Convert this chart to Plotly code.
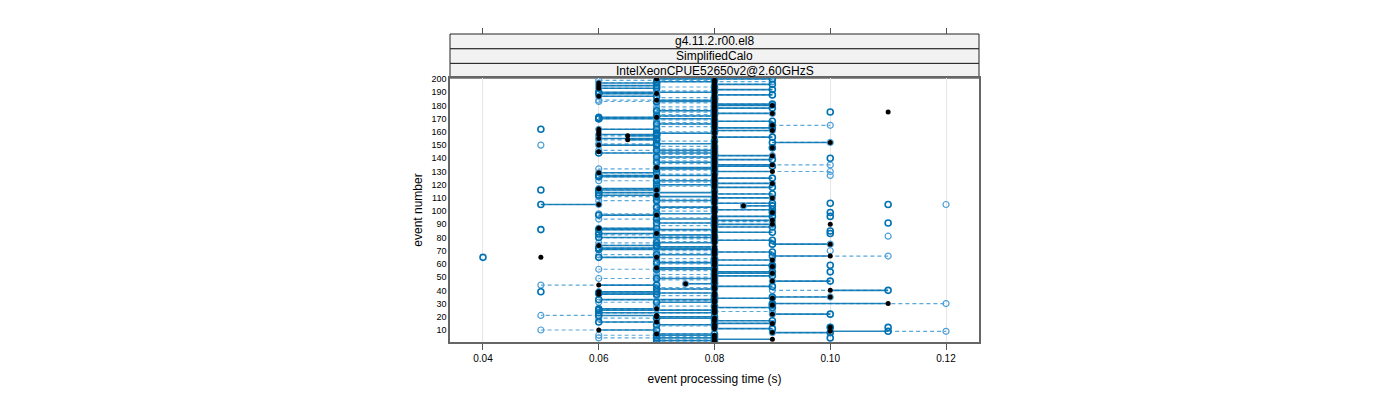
import plotly.graph_objects as go

# ---- data (times in ms) ----
events = list(range(1, 201))
black_ms = [80,80,90,80,80,80,70,90,100,60, 80,100,80,80,90,70,80,80,80,70,
            70,90,80,80,80,70,80,80,90,110, 80,80,80,90,100,80,60,80,60,100,
            80,80,80,60,75,80,90,80,80,80, 80,80,90,80,80,80,70,90,80,80,
            80,80,90,80,70,100,80,80,80,80, 80,80,80,60,100,80,80,80,80,80,
            80,80,70,80,80,80,60,80,80,90, 80,80,90,80,80,80,70,80,90,80,
            80,80,80,85,60,80,80,80,80,90, 80,70,80,80,80,70,60,80,80,80,
            90,80,80,80,80,70,80,80,60,90, 80,80,70,80,90,80,80,80,80,80,
            80,90,80,80,80,80,80,90,80,60, 80,100,80,65,60,80,65,60,80,80,
            90,60,80,80,90,80,80,80,80,80, 70,80,80,90,80,80,80,80,80,90,
            80,80,80,70,80,80,60,80,70,80, 80,80,60,80,60,80,60,80,80,70]
blue_ms = [80,70,80,70,80,70,80,100,110,70, 90,100,80,70,80,60,90,80,70,80,
           60,100,60,80,60,60,90,80,90,90, 70,80,60,80,90,80,70,60,70,110,
           70,80,90,70,80,80,100,80,70,80, 90,80,80,90,80,70,80,90,90,80,
           70,80,80,80,60,90,70,80,90,80, 60,60,70,70,90,70,80,90,80,60,
           80,70,60,90,80,60,70,90,80,80, 70,80,80,70,80,90,60,70,90,80,
           90,80,70,90,50,90,80,70,80,80, 70,60,90,60,80,60,70,90,80,70,
           80,80,70,80,90,60,60,80,70,80, 80,70,80,90,80,80,70,80,90,80,
           70,80,80,60,80,70,80,90,80,70, 70,90,80,70,70,90,70,70,70,80,
           80,70,90,80,90,70,80,90,80,60, 60,70,80,80,80,70,80,90,80,80,
           90,80,70,80,80,80,70,90,60,60, 80,90,70,80,70,90,70,70,80,90]
light_ms = [70,80,70,60,70,60,70,90,120,50, 80,100,70,80,90,70,80,80,60,70,
            50,90,80,90,80,70,80,70,90,120, 60,70,80,90,100,70,60,80,60,90,
            80,70,80,50,75,80,90,70,60,70, 80,70,90,80,70,60,70,90,80,70,
            80,70,90,70,70,110,60,70,80,70, 80,70,80,60,100,60,70,80,70,80,
            70,60,70,80,70,80,60,80,70,90, 80,90,90,60,70,80,70,60,90,70,
            80,70,80,85,60,80,70,60,70,90, 60,70,80,70,80,70,60,80,70,80,
            90,70,60,70,80,70,80,70,60,100, 70,60,70,80,100,70,80,70,80,70,
            80,90,70,80,70,60,70,90,70,60, 60,100,70,60,60,80,60,60,80,70,
            90,60,80,70,100,80,70,80,70,80, 70,80,70,90,70,80,70,80,70,90,
            80,70,60,60,80,70,60,80,70,80, 70,80,60,70,60,80,60,90,60,70]

# points without connecting segments
outlier_events = [65, 65, 162, 116, 86, 39, 150, 175, 175, 140, 127, 106, 99,
                  105, 91, 81, 105, 96, 90, 85, 83, 70, 59, 54, 4, 12, 145, 160, 170]
outlier_ms = [40, 50, 50, 50, 50, 50, 50, 100, 110, 100, 100, 100, 100,
              110, 110, 110, 120, 100, 100, 100, 100, 100, 100, 100, 100, 110, 60, 60, 60]
outlier_kind = ["blue", "black", "blue", "blue", "blue", "blue", "light", "blue", "black",
                "blue", "light", "blue", "blue", "blue", "blue", "light", "light",
                "blue", "black", "blue", "blue", "light", "blue", "blue", "blue", "blue",
                "black", "black", "blue"]

x_ticks = [0.04, 0.06, 0.08, 0.10, 0.12]
x_tick_text = ["0.04", "0.06", "0.08", "0.10", "0.12"]
y_ticks = list(range(10, 201, 10))
strip_labels = ["IntelXeonCPUE52650v2@2.60GHzS", "SimplifiedCalo", "g4.11.2.r00.el8"]

DARK = "#0072B2"
LIGHT = "#4A9FD8"

def sec(v):
    return v / 1000.0

# segments
sx, sy, dx, dy = [], [], [], []
for e, a, b, c in zip(events, black_ms, blue_ms, light_ms):
    sx += [sec(a), sec(b), None]
    sy += [e, e, None]
    dx += [sec(b), sec(c), None]
    dy += [e, e, None]

fig = go.Figure()
fig.add_trace(go.Scatter(x=dx, y=dy, mode="lines",
                         line=dict(color=LIGHT, width=1.2, dash="4px,3px"),
                         opacity=0.9, hoverinfo="skip", showlegend=False))
fig.add_trace(go.Scatter(x=sx, y=sy, mode="lines",
                         line=dict(color=DARK, width=1.6),
                         opacity=0.85, hoverinfo="skip", showlegend=False))

def pts(kind):
    xs = [sec(m) for m, k in zip(outlier_ms, outlier_kind) if k == kind]
    ys = [e for e, k in zip(outlier_events, outlier_kind) if k == kind]
    return xs, ys

lx, ly = pts("light")
fig.add_trace(go.Scatter(x=[sec(v) for v in light_ms] + lx, y=events + ly, mode="markers",
                         marker=dict(symbol="circle-open", size=6, color=LIGHT, line=dict(width=1.2)),
                         showlegend=False))
bx, by = pts("blue")
fig.add_trace(go.Scatter(x=[sec(v) for v in blue_ms] + bx, y=events + by, mode="markers",
                         marker=dict(symbol="circle-open", size=6, color=DARK, line=dict(width=1.6)),
                         showlegend=False))
kx, ky = pts("black")
fig.add_trace(go.Scatter(x=[sec(v) for v in black_ms] + kx, y=events + ky, mode="markers",
                         marker=dict(symbol="circle", size=5, color="black"),
                         showlegend=False))
# invisible trace for the top tick axis
fig.add_trace(go.Scatter(x=[0.08], y=[100], xaxis="x2", mode="markers",
                         marker=dict(opacity=0), hoverinfo="skip", showlegend=False))

plot_h = 264.0
total_h = 308.0
dom_top = plot_h / total_h
strip_h = (total_h - plot_h) / 3.0 / total_h

for i, lab in enumerate(strip_labels):
    y0 = dom_top + i * strip_h
    y1 = y0 + strip_h
    fig.add_shape(type="rect", xref="paper", yref="paper", x0=0, x1=1, y0=y0, y1=y1,
                  fillcolor="#f2f2f2", line=dict(color="#222222", width=1), layer="below")
    fig.add_annotation(xref="paper", yref="paper", x=0.5, y=(y0 + y1) / 2, text=lab,
                       showarrow=False, font=dict(size=12, color="black"), yanchor="middle")

xr = [0.0343, 0.1257]
fig.update_layout(
    width=1400, height=400,
    margin=dict(l=442, r=429, t=26, b=66),
    paper_bgcolor="white", plot_bgcolor="white",
    font=dict(family="Liberation Sans, Arial, sans-serif", color="black"),
    xaxis=dict(range=xr, domain=[0, 1], anchor="y", tickvals=x_ticks, ticktext=x_tick_text,
               ticks="outside", ticklen=6, tickcolor="#555", tickfont=dict(size=10),
               showline=True, linecolor="#666", linewidth=1.5, mirror=True,
               showgrid=True, gridcolor="#e6e6e6", gridwidth=1, zeroline=False,
               title=dict(text="event processing time (s)", font=dict(size=12), standoff=12)),
    xaxis2=dict(range=xr, overlaying="x", anchor="free", position=1, side="top",
                tickvals=x_ticks, ticks="outside", ticklen=6, tickcolor="#555",
                showticklabels=False, showgrid=False, showline=False, zeroline=False),
    yaxis=dict(range=[0.9, 200.8], domain=[0, dom_top], tickvals=y_ticks,
               ticks="", tickfont=dict(size=9), showline=True, linecolor="#666",
               linewidth=1.5, mirror=True, showgrid=False, zeroline=False,
               title=dict(text="event number", font=dict(size=12), standoff=6)),
)

fig.write_html("out.html")
